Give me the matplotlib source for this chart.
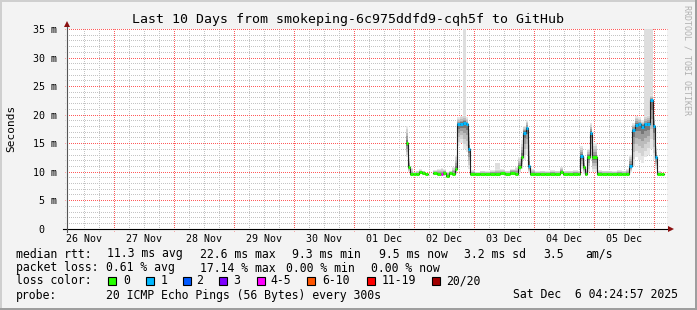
import numpy as np
import matplotlib
matplotlib.use("Agg")
import matplotlib.pyplot as plt
from matplotlib.patches import Rectangle

plt.rcParams['font.family'] = 'DejaVu Sans Mono'

# hours after 01 Dec 00:00, median rtt in ms, loss bucket, smoke envelope
hours = [20.8, 21.6, 22.4, 23.6, 24.8, 26.0, 27.2, 28.4, 29.6,
         31.6, 33.2, 34.8, 35.6, 36.8, 38.0, 39.2, 40.4, 41.2, 42.4,
         43.6, 44.8, 45.6, 46.4, 48.4, 50.4, 52.4, 54.4, 56.4, 58.4,
         60.4, 62.4, 64.4, 65.6, 66.8, 67.6, 68.6, 69.6, 70.4, 72.4,
         74.4, 76.4, 78.4, 80.4, 82.4, 83.6, 85.6, 87.6, 89.6, 90.4,
         91.4, 92.4, 93.2, 94.2, 95.2, 97.2, 99.2, 101.2, 103.2, 105.2,
         107.2, 108.8, 110.0, 111.2, 112.4, 113.6, 114.8, 116.0, 117.2,
         118.4, 119.6, 120.4, 121.2, 122.8, 124.0]
median_ms = [15.0, 10.8, 9.6, 9.5, 9.6, 9.9, 9.8, 9.6, np.nan,
             9.7, 9.6, 9.6, 9.8, 9.3, 9.7, 9.6, 10.4, 18.3, 18.4,
             18.5, 18.3, 13.9, 9.6, 9.5, 9.6, 9.5, 9.6, 9.6, 9.7,
             9.6, 9.8, 9.6, 10.9, 12.6, 16.8, 17.6, 11.0, 9.6, 9.5,
             9.6, 9.5, 9.6, 9.6, 9.9, 9.6, 9.6, 9.6, 9.6, 12.7,
             10.8, 9.5, 12.6, 16.8, 12.5, 9.6, 9.5, 9.6, 9.5, 9.6,
             9.5, 9.5, 11.0, 17.3, 18.2, 18.3, 17.9, 18.3, 18.4,
             22.6, 18.0, 12.6, 9.6, 9.6, np.nan]
loss_idx = [0, 0, 0, 0, 0, 0, 0, 0, 0,
            0, 0, 4, 0, 0, 0, 0, 0, 1, 1,
            1, 1, 1, 0, 0, 0, 0, 0, 0, 0,
            0, 0, 0, 0, 0, 1, 1, 1, 0, 0,
            0, 0, 0, 0, 0, 0, 0, 0, 0, 1,
            0, 0, 0, 1, 0, 0, 0, 0, 0, 0,
            0, 0, 1, 1, 1, 1, 1, 1, 1,
            1, 1, 1, 0, 0, 0]
smoke_lo = [12.5, 10.0, 9.3, 9.3, 9.3, 9.5, 9.4, 9.3, np.nan,
            9.4, 9.3, 9.3, 9.4, 9.1, 9.4, 9.3, 9.6, 14.5, 15.0,
            14.0, 13.5, 10.5, 9.3, 9.3, 9.3, 9.3, 9.3, 9.3, 9.4,
            9.3, 9.5, 9.3, 9.8, 10.5, 12.0, 13.0, 9.8, 9.3, 9.3,
            9.3, 9.3, 9.3, 9.3, 9.5, 9.3, 9.3, 9.3, 9.3, 10.5,
            9.6, 9.2, 10.0, 12.0, 10.0, 9.3, 9.3, 9.3, 9.3, 9.3,
            9.3, 9.3, 9.8, 11.0, 12.5, 12.0, 11.5, 12.5, 13.0,
            14.0, 12.0, 10.5, 9.3, 9.3, np.nan]
smoke_hi = [18.0, 12.5, 10.6, 10.0, 10.2, 10.4, 10.2, 10.0, np.nan,
            10.3, 10.4, 10.6, 10.4, 10.0, 10.2, 10.8, 13.0, 19.5, 19.8,
            20.0, 19.5, 17.5, 10.3, 10.0, 10.2, 10.1, 10.3, 10.4, 10.4,
            10.2, 10.5, 10.8, 12.5, 15.5, 18.0, 19.0, 15.5, 10.5, 10.1,
            10.2, 10.1, 10.3, 10.2, 10.8, 10.2, 10.2, 10.3, 10.2, 14.5,
            12.5, 10.5, 14.0, 18.5, 15.0, 10.3, 10.2, 10.2, 10.1, 10.3,
            10.2, 10.4, 13.0, 18.5, 19.8, 19.5, 19.0, 19.8, 20.0,
            23.5, 20.0, 14.5, 10.2, 10.2, np.nan]
# single slow pings (light smoke)
outlier_hours = [43.6, 56.4, 116.0, 117.2, 118.4]
outlier_top = [36.0, 11.5, 36.0, 36.0, 36.0]

loss_labels = ["0", "1", "2", "3", "4-5", "6-10", "11-19", "20/20"]
loss_colors = ["#26ff00", "#00b8ff", "#0059ff", "#7e00ff",
               "#ff00ff", "#ff5500", "#ff0000", "#a10000"]
day_labels = ["26 Nov", "27 Nov", "28 Nov", "29 Nov", "30 Nov",
              "01 Dec", "02 Dec", "03 Dec", "04 Dec", "05 Dec"]
ytick_labels = ["0  ", "5 m", "10 m", "15 m", "20 m", "25 m", "30 m", "35 m"]

hours = np.array(hours)
median_ms = np.array(median_ms)
loss_idx = np.array(loss_idx)
smoke_lo = np.array(smoke_lo)
smoke_hi = np.array(smoke_hi)

W, H = 697, 310
def fx(x):
    return x / W
def fy(y):
    return 1 - y / H

fig = plt.figure(figsize=(W / 100, H / 100), dpi=100, facecolor='#f3f3f3')
ax = fig.add_axes([fx(67), fy(228.7), 600 / W, 199.7 / H])
ax.set_facecolor('white')
x0, x1 = -114.8, 125.2
ax.set_xlim(x0, x1)
ax.set_ylim(0, 35)
for s in ax.spines.values():
    s.set_visible(False)

# grid (rrdtool style, lines poke 2px past the axes)
ext_y = 2 / 199.7
ext_x = 2 / 600
minor_c, major_c = '#c4c4c4', '#ff5a5a'
dots = (0.5, (1, 1))
for h in np.arange(-108, x1, 6):
    major = h % 24 == 0
    ax.axvline(h, ymin=-ext_y, ymax=1, clip_on=False, lw=0.72,
               ls=dots, color=major_c if major else minor_c, zorder=0.5)
for v in range(1, 36):
    major = v % 5 == 0
    ax.axhline(v, xmin=-ext_x, xmax=1, clip_on=False, lw=0.72,
               ls=dots, color=major_c if major else minor_c, zorder=0.5)

# light smoke from single slow pings
step_w = np.diff(hours)
for oh, top in zip(outlier_hours, outlier_top):
    i = int(np.argmin(np.abs(hours - oh)))
    ax.bar(hours[i], top - median_ms[i], bottom=median_ms[i], width=step_w[i],
           align='edge', color='#dedede', lw=0, zorder=0.8)

# smoke
shades = ['#e6e6e6', '#d2d2d2', '#bbbbbb', '#9d9d9d', '#777777']
n = len(shades)
for k, c in enumerate(shades):
    frac = 1 - k / n
    lo = median_ms - (median_ms - smoke_lo) * frac
    hi = median_ms + (smoke_hi - median_ms) * frac
    ax.fill_between(hours, lo, hi, step='post', color=c, lw=0, zorder=1)

# median line, then loss coloured blocks on top
ax.step(hours, median_ms, where='post', color='#202020', lw=0.8, zorder=2)
ok = ~np.isnan(median_ms[:-1])
seg_col = [loss_colors[b] for b in loss_idx[:-1][ok]]
ax.hlines(median_ms[:-1][ok], hours[:-1][ok], hours[1:][ok], colors=seg_col,
          lw=2.2, zorder=3)

# ticks
ax.set_xticks(np.arange(-108, 109, 24))
ax.set_xticklabels(day_labels)
ax.set_yticks(np.arange(0, 36, 5))
ax.set_yticklabels(ytick_labels)
ax.tick_params(axis='both', length=0, labelsize=7.2)
ax.tick_params(axis='x', pad=3.5)
ax.tick_params(axis='y', pad=7)

# axes lines + arrows
ax.plot([-4 / 600, 1 + 4 / 600], [0, 0], transform=ax.transAxes, clip_on=False,
        color='#000000', lw=0.8, zorder=4)
ax.plot([0, 0], [-3 / 199.7, 1 + 5 / 199.7], transform=ax.transAxes, clip_on=False,
        color='#555555', lw=0.8, zorder=4)
ax.plot([1 + 4 / 600], [0], marker='>', ms=4, color='#8b1010', mew=0,
        transform=ax.transAxes, clip_on=False, zorder=5)
ax.plot([0], [1 + 5 / 199.7], marker='^', ms=4, color='#8b1010', mew=0,
        transform=ax.transAxes, clip_on=False, zorder=5)

# texts
fig.text(fx(348.5), fy(19), "Last 10 Days from smokeping-6c975ddfd9-cqh5f to GitHub",
         ha='center', va='center', fontsize=9.5)
fig.text(fx(11), fy(128), "Seconds", rotation=90, ha='center', va='center', fontsize=8)
fig.text(fx(687), fy(60), "RRDTOOL / TOBI OETIKER", rotation=270, ha='center',
         va='center', fontsize=6, color='#b0b0b0')

fs = 8.3
row1 = [(16, "median rtt:"), (107, "11.3 ms avg"), (199.5, "22.6 ms max"),
        (292.5, "9.3 ms min"), (378.5, "9.5 ms now"), (464.5, "3.2 ms sd"),
        (543.5, "3.5"), (585.5, "am/s")]
row2 = [(16, "packet loss:"), (106.5, "0.61 % avg"), (199.5, "17.14 % max"),
        (286, "0.00 % min"), (371, "0.00 % now")]
row4 = [(16, "probe:"), (106.5, "20 ICMP Echo Pings (56 Bytes) every 300s"),
        (513, "Sat Dec  6 04:24:57 2025")]
for x, t in row1:
    fig.text(fx(x), fy(254), t, ha='left', va='center', fontsize=fs)
for x, t in row2:
    fig.text(fx(x), fy(268), t, ha='left', va='center', fontsize=fs)
for x, t in row4:
    fig.text(fx(x), fy(295), t, ha='left', va='center', fontsize=fs)
fig.text(fx(16), fy(281), "loss color:", ha='left', va='center', fontsize=fs)
box_x = [108, 145.7, 182.7, 219.3, 256.7, 307.3, 366.7, 431.7]
lab_x = [123, 160.5, 196.5, 233, 270.5, 322, 381.5, 446.5]
for bx, lx, lab, col in zip(box_x, lab_x, loss_labels, loss_colors):
    fig.add_artist(Rectangle((fx(bx), fy(285)), 8 / W, 8 / H, transform=fig.transFigure,
                             facecolor=col, edgecolor='black', lw=0.8))
    fig.text(fx(lx), fy(281), lab, ha='left', va='center', fontsize=fs)

# 3d frame
fig.add_artist(Rectangle((0, 0), 2 / W, 1, transform=fig.transFigure, color='#cfcfcf', lw=0))
fig.add_artist(Rectangle((0, 1 - 2 / H), 1, 2 / H, transform=fig.transFigure, color='#cfcfcf', lw=0))
fig.add_artist(Rectangle((0, 0), 1, 2 / H, transform=fig.transFigure, color='#9e9e9e', lw=0))
fig.add_artist(Rectangle((1 - 2 / W, 0), 2 / W, 1, transform=fig.transFigure, color='#9e9e9e', lw=0))

fig.savefig("out.png", dpi=100, facecolor=fig.get_facecolor())
